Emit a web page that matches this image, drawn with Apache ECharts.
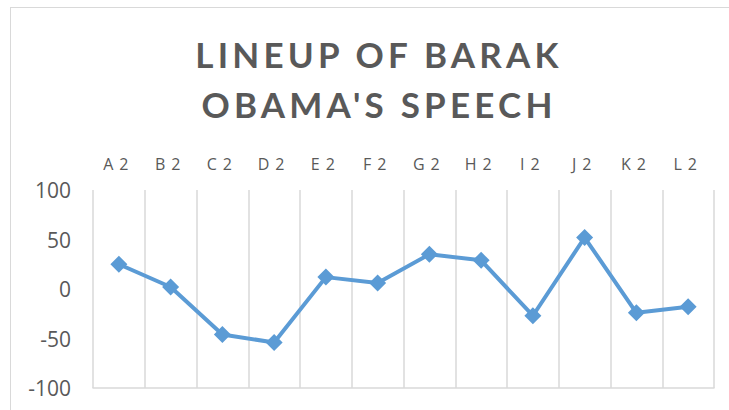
<!DOCTYPE html>
<html>
<head>
<meta charset="utf-8">
<script src="https://cdn.jsdelivr.net/npm/echarts@6/dist/echarts.min.js"></script>
<style>
html, body { margin: 0; padding: 0; background: #fff; }
.frame {
  position: absolute;
  left: 10px;
  top: 7px;
  width: 760px;
  height: 440px;
  border: 1px solid #d9d9d9;
}
#chartDom {
  position: absolute;
  left: 0;
  top: 0;
  width: 729px;
  height: 410px;
}
</style>
</head>
<body>
<div class="frame"></div>
<div id="chartDom"></div>
<script>
// data
var categories = ['A2', 'B2', 'C2', 'D2', 'E2', 'F2', 'G2', 'H2', 'I2', 'J2', 'K2', 'L2'];
var values = [25, 2, -46, -54, 12, 6, 35, 29, -27, 52, -24, -18];
var yMin = -100;
var yMax = 100;
var yStep = 50;
var titleLines = ['LINEUP OF BARAK', "OBAMA'S SPEECH"];

var chartDom = document.getElementById('chartDom');
var myChart = echarts.init(chartDom, null, { renderer: 'svg' });
var option = {
  animation: false,
  title: {
    text: titleLines.join('\n'),
    left: 374,
    top: 24,
    textAlign: 'center',
    textStyle: {
      fontFamily: 'Lato',
      fontWeight: 'bold',
      fontSize: 35,
      lineHeight: 50,
      color: '#595959'
    }
  },
  grid: {
    left: 93,
    right: 15,
    top: 190,
    bottom: 22,
    containLabel: false
  },
  xAxis: [
    {
      type: 'category',
      position: 'top',
      data: categories,
      boundaryGap: true,
      axisLine: { show: false },
      axisTick: { show: false },
      axisLabel: {
        margin: 18,
        fontFamily: 'Open Sans',
        fontSize: 16,
        color: '#595959'
      },
      splitLine: {
        show: true,
        lineStyle: { color: '#d9d9d9', width: 1.5 }
      }
    },
    {
      type: 'category',
      data: categories,
      boundaryGap: true,
      axisLine: {
        show: true,
        onZero: true,
        lineStyle: { color: '#d9d9d9', width: 1.5 }
      },
      axisTick: { show: false },
      axisLabel: { show: false },
      splitLine: { show: false }
    }
  ],
  yAxis: {
    type: 'value',
    min: yMin,
    max: yMax,
    interval: yStep,
    axisLine: { show: false },
    axisTick: { show: false },
    splitLine: { show: false },
    axisLabel: {
      margin: 22,
      fontFamily: 'Open Sans',
      fontSize: 21,
      color: '#595959'
    }
  },
  series: [
    {
      type: 'line',
      xAxisIndex: 0,
      data: values,
      symbol: 'diamond',
      symbolSize: 17,
      lineStyle: { color: '#5b9bd5', width: 4 },
      itemStyle: { color: '#5b9bd5' }
    }
  ]
};

// the title and category labels are letter-spaced in the original
function spaceLetters() {
  var texts = chartDom.querySelectorAll('text');
  texts.forEach(function (t) {
    var s = t.textContent;
    if (titleLines.indexOf(s) >= 0) {
      t.style.letterSpacing = '4.2px';
    } else if (categories.indexOf(s) >= 0) {
      t.style.letterSpacing = '6px';
    }
  });
}
myChart.on('finished', spaceLetters);
option && myChart.setOption(option);
spaceLetters();
</script>
</body>
</html>
